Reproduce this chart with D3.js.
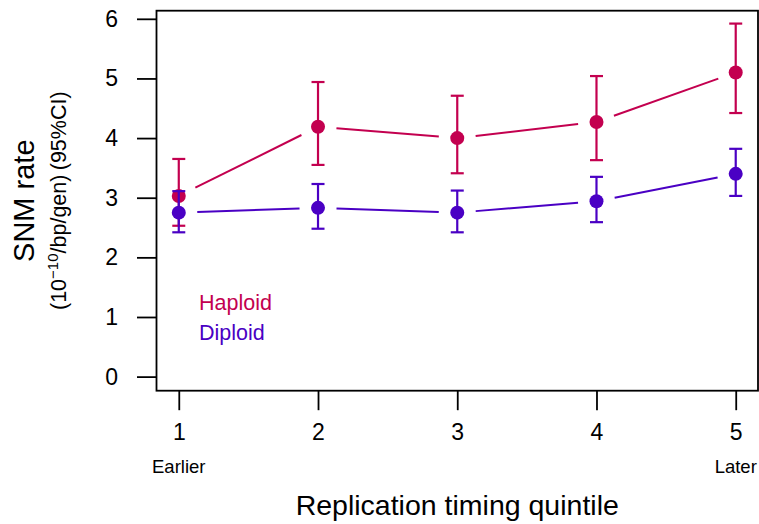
<!DOCTYPE html>
<html>
<head>
<meta charset="utf-8">
<script src="https://cdn.jsdelivr.net/npm/d3@7"></script>
<style>
  html, body { margin: 0; padding: 0; background: #fff; }
  svg { display: block; font-family: "Liberation Sans", Arial, Helvetica, sans-serif; }
</style>
</head>
<body>
<svg id="chart" width="759" height="524"></svg>
<script>
// Replication timing quintiles (1 = earliest, 5 = latest)
const quintiles = [1, 2, 3, 4, 5];
const xTickLabels = ["1", "2", "3", "4", "5"];
const yTicks = [0, 1, 2, 3, 4, 5, 6];

// SNM rate (10^-10 /bp/gen) with 95% CI
const haploidRate = [3.03, 4.19, 4.00, 4.27, 5.10];
const haploidLow  = [2.53, 3.55, 3.41, 3.63, 4.42];
const haploidHigh = [3.65, 4.94, 4.71, 5.04, 5.92];

const diploidRate = [2.75, 2.83, 2.75, 2.94, 3.40];
const diploidLow  = [2.42, 2.48, 2.42, 2.59, 3.03];
const diploidHigh = [3.11, 3.23, 3.12, 3.35, 3.82];

const seriesNames = ["Haploid", "Diploid"];
const seriesColors = ["#C3004F", "#4A00C4"];

const svg = d3.select("#chart");
const box = { left: 156.5, right: 758, top: 10.7, bottom: 390.7 };

const x = d3.scaleLinear().domain([0.84, 5.16]).range([box.left, box.right]);
const y = d3.scaleLinear().domain([-0.236, 6.136]).range([box.bottom, box.top]);

const series = [
  { name: seriesNames[0], color: seriesColors[0], rate: haploidRate, low: haploidLow, high: haploidHigh },
  { name: seriesNames[1], color: seriesColors[1], rate: diploidRate, low: diploidLow, high: diploidHigh }
];

// Plot frame
svg.append("rect")
  .attr("x", box.left).attr("y", box.top)
  .attr("width", box.right - box.left).attr("height", box.bottom - box.top)
  .attr("fill", "none").attr("stroke", "#000").attr("stroke-width", 1.8);

// Y axis
const yAxis = d3.axisLeft(y).tickValues(yTicks).tickSize(19.5).tickPadding(19).tickFormat(d3.format("d"));
const gy = svg.append("g").attr("transform", `translate(${box.left},0)`).call(yAxis);
gy.select(".domain").remove();
gy.selectAll("line").attr("stroke", "#000").attr("stroke-width", 1.8);
gy.selectAll("text").attr("font-size", 23).attr("fill", "#000")
  .attr("font-family", "Liberation Sans, Arial, sans-serif");

// X axis
const xAxis = d3.axisBottom(x).tickValues(quintiles).tickSize(19.5).tickPadding(13)
  .tickFormat((d, i) => xTickLabels[i]);
const gx = svg.append("g").attr("transform", `translate(0,${box.bottom})`).call(xAxis);
gx.select(".domain").remove();
gx.selectAll("line").attr("stroke", "#000").attr("stroke-width", 1.8);
gx.selectAll("text").attr("font-size", 23).attr("fill", "#000")
  .attr("font-family", "Liberation Sans, Arial, sans-serif");

// End labels under the first and last quintile
svg.append("text").attr("x", x(quintiles[0])).attr("y", 472.5)
  .attr("text-anchor", "middle").attr("font-size", 18.5).text("Earlier");
svg.append("text").attr("x", x(quintiles[quintiles.length - 1])).attr("y", 472.5)
  .attr("text-anchor", "middle").attr("font-size", 18.5).text("Later");

// Axis titles
svg.append("text").attr("x", (box.left + box.right) / 2).attr("y", 515)
  .attr("text-anchor", "middle").attr("font-size", 28.5).text("Replication timing quintile");

const cy = (box.top + box.bottom) / 2;
svg.append("text")
  .attr("transform", `translate(34,${cy}) rotate(-90)`)
  .attr("text-anchor", "middle").attr("font-size", 29).text("SNM rate");

const sub = svg.append("text")
  .attr("transform", `translate(65.5,${cy}) rotate(-90)`)
  .attr("text-anchor", "middle").attr("font-size", 21.5);
sub.append("tspan").text("(10");
sub.append("tspan").attr("dy", -8).attr("font-size", 15).text("\u221210");
sub.append("tspan").attr("dy", 8).text("/bp/gen)\u2009(95%CI)");

// Series: gapped connecting lines, error bars, points
const gap = 18.5;
const capHalf = 6.5;

series.forEach(s => {
  const g = svg.append("g");
  const pts = quintiles.map((q, i) => [x(q), y(s.rate[i])]);

  // connecting segments with gaps around each point
  const segs = d3.pairs(pts).map(([a, b]) => {
    const dx = b[0] - a[0], dy = b[1] - a[1];
    const len = Math.hypot(dx, dy);
    const ux = dx / len, uy = dy / len;
    return [[a[0] + ux * gap, a[1] + uy * gap], [b[0] - ux * gap, b[1] - uy * gap]];
  });
  g.selectAll("line.seg").data(segs).join("line").attr("class", "seg")
    .attr("x1", d => d[0][0]).attr("y1", d => d[0][1])
    .attr("x2", d => d[1][0]).attr("y2", d => d[1][1])
    .attr("stroke", s.color).attr("stroke-width", 2);

  // error bars
  const eb = g.selectAll("g.eb").data(quintiles).join("g").attr("class", "eb");
  eb.append("line")
    .attr("x1", d => x(d)).attr("x2", d => x(d))
    .attr("y1", (d, i) => y(s.low[i])).attr("y2", (d, i) => y(s.high[i]))
    .attr("stroke", s.color).attr("stroke-width", 2.2);
  eb.append("line")
    .attr("x1", d => x(d) - capHalf).attr("x2", d => x(d) + capHalf)
    .attr("y1", (d, i) => y(s.high[i])).attr("y2", (d, i) => y(s.high[i]))
    .attr("stroke", s.color).attr("stroke-width", 2.2);
  eb.append("line")
    .attr("x1", d => x(d) - capHalf).attr("x2", d => x(d) + capHalf)
    .attr("y1", (d, i) => y(s.low[i])).attr("y2", (d, i) => y(s.low[i]))
    .attr("stroke", s.color).attr("stroke-width", 2.2);

  // points
  g.selectAll("circle").data(quintiles).join("circle")
    .attr("cx", d => x(d)).attr("cy", (d, i) => y(s.rate[i]))
    .attr("r", 7).attr("fill", s.color);
});

// Legend
series.forEach((s, i) => {
  svg.append("text").attr("x", 199).attr("y", 309.5 + i * 30)
    .attr("font-size", 21.5).attr("fill", s.color).text(s.name);
});
</script>
</body>
</html>
